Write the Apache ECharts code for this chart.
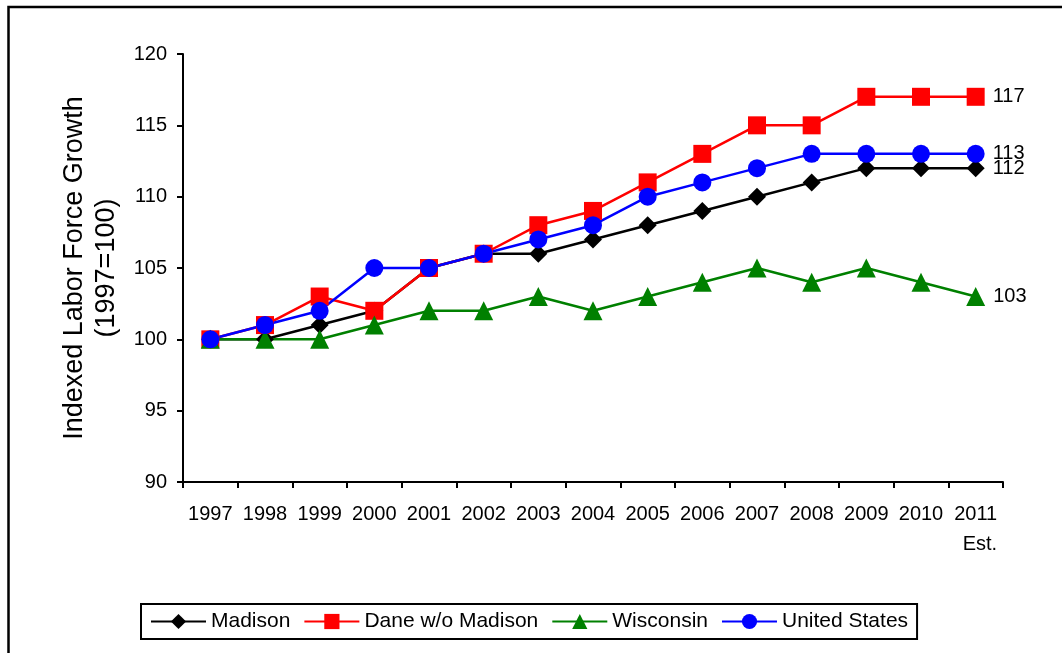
<!DOCTYPE html>
<html>
<head>
<meta charset="utf-8">
<script src="https://cdn.jsdelivr.net/npm/echarts@6/dist/echarts.min.js"></script>
<style>
  html, body { margin: 0; padding: 0; background: #fff; }
  #chart { width: 1062px; height: 653px; }
</style>
</head>
<body>
<div id="chart"></div>
<script>
const years = ['1997','1998','1999','2000','2001','2002','2003','2004','2005','2006','2007','2008','2009','2010','2011'];
const lastNote = 'Est.';
const madison = [100,100,101,102,105,106,106,107,108,109,110,111,112,112,112];
const dane = [100,101,103,102,105,106,108,109,111,113,115,115,117,117,117];
const wisconsin = [100,100,100,101,102,102,103,102,103,104,105,104,105,104,103];
const unitedStates = [100,101,102,105,105,106,107,108,110,111,112,113,113,113,113];
const yTicks = { min: 90, max: 120, interval: 5 };

const FONT = "'Liberation Sans', Arial, sans-serif";
const lastIdx = years.length - 1;

function mk(name, data, color, symbol, size) {
  return {
    name: name,
    type: 'line',
    data: data,
    symbol: symbol,
    symbolSize: size,
    lineStyle: { color: color, width: 2.5 },
    itemStyle: { color: color },
    label: {
      show: true,
      position: 'right',
      distance: 8,
      fontFamily: FONT,
      fontSize: 20,
      color: '#000',
      formatter: function (p) { return p.dataIndex === lastIdx ? String(p.value) : ''; }
    },
    emphasis: { disabled: true },
    animation: false
  };
}

const chart = echarts.init(document.getElementById('chart'), null, { renderer: 'canvas' });
chart.setOption({
  backgroundColor: '#fff',
  animation: false,
  textStyle: { fontFamily: FONT },
  graphic: [{
    type: 'rect',
    shape: { x: 8.5, y: 7, width: 1200, height: 800 },
    style: { fill: 'none', stroke: '#000', lineWidth: 2.5 },
    silent: true
  }],
  grid: { left: 183, top: 54, width: 820, height: 428, containLabel: false },
  legend: {
    left: 141, top: 604,
    padding: [7, 9, 7, 9],
    itemGap: 13,
    itemWidth: 55,
    itemHeight: 19,
    borderColor: '#000',
    borderWidth: 2,
    borderRadius: 0,
    textStyle: { fontFamily: FONT, fontSize: 21, color: '#000' },
    data: ['Madison', 'Dane w/o Madison', 'Wisconsin', 'United States']
  },
  xAxis: {
    type: 'category',
    data: years,
    boundaryGap: true,
    axisLine: { lineStyle: { color: '#000', width: 2 } },
    axisTick: { show: true, inside: false, length: 6, alignWithLabel: false, lineStyle: { color: '#000', width: 2 } },
    axisLabel: {
      margin: 17,
      color: '#000',
      fontFamily: FONT,
      fontSize: 20,
      interval: 0,
      lineHeight: 30,
      formatter: function (v, i) { return i === lastIdx ? '{a|' + v + '}\n{b|' + lastNote + '}' : v; },
      rich: {
        a: { fontFamily: FONT, fontSize: 20, color: '#000', lineHeight: 30 },
        b: { fontFamily: FONT, fontSize: 20, color: '#000', lineHeight: 30, align: 'right' }
      }
    },
    splitLine: { show: false }
  },
  yAxis: {
    type: 'value',
    min: yTicks.min, max: yTicks.max, interval: yTicks.interval,
    name: 'Indexed Labor Force Growth\n(1997=100)',
    nameLocation: 'middle',
    nameRotate: 90,
    nameGap: 60,
    nameTextStyle: { fontFamily: FONT, fontSize: 27, color: '#000', lineHeight: 32 },
    axisLine: { show: true, lineStyle: { color: '#000', width: 2 } },
    axisTick: { show: true, inside: false, length: 6, lineStyle: { color: '#000', width: 2 } },
    axisLabel: { margin: 16, color: '#000', fontFamily: FONT, fontSize: 20 },
    splitLine: { show: false }
  },
  series: [
    mk('Madison', madison, '#000000', 'diamond', 18),
    mk('Dane w/o Madison', dane, '#FF0000', 'rect', 18),
    mk('Wisconsin', wisconsin, '#008000', 'triangle', 19),
    mk('United States', unitedStates, '#0000FF', 'circle', 18)
  ]
});
</script>
</body>
</html>
